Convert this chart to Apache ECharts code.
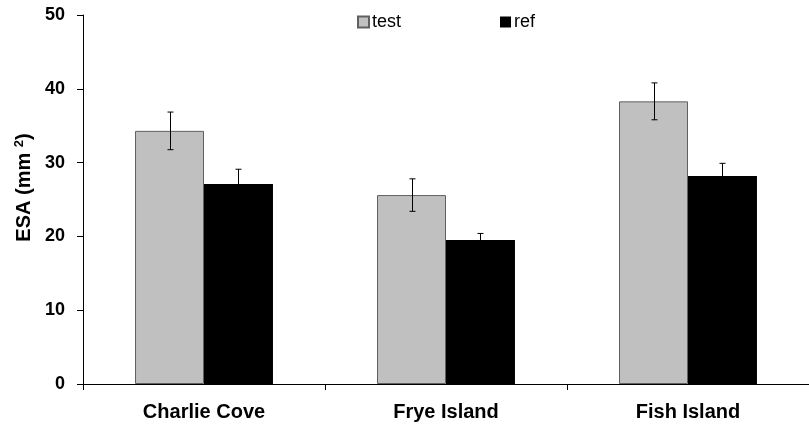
<!DOCTYPE html>
<html>
<head>
<meta charset="utf-8">
<title>ESA chart</title>
<script src="https://cdn.jsdelivr.net/npm/echarts@6/dist/echarts.min.js"></script>
<style>
  html, body { margin: 0; padding: 0; background: #fff; }
  #chart { width: 809px; height: 429px; }
</style>
</head>
<body>
<div id="chart"></div>
<script>
// data
var sites = ['Charlie Cove', 'Frye Island', 'Fish Island'];
var testVals = [34.3, 25.6, 38.3];
var testErr = [2.55, 2.2, 2.5];
var refVals = [27.1, 19.5, 28.2];
var refErr = [2.0, 0.9, 1.7];
var yTicks = [0, 10, 20, 30, 40, 50];

var gapPct = 0.43;
var myChart = echarts.init(document.getElementById('chart'));

function errData(vals, errs) {
    return vals.map(function (v, i) { return [i, v - errs[i], v + errs[i]]; });
}

function errSeries(name, vals, errs, side) {
    return {
        type: 'custom',
        name: name + '_err',
        z: 5,
        data: errData(vals, errs),
        renderItem: function (params, api) {
            var band = api.size([1, 0])[0];
            var off = side * band * (1 - gapPct) / 4;
            var lo = api.coord([api.value(0), api.value(1)]);
            var hi = api.coord([api.value(0), api.value(2)]);
            var x = Math.round(lo[0] + off) + 0.5;
            var st = { stroke: '#000', lineWidth: 1 };
            return {
                type: 'group',
                children: [
                    { type: 'line', shape: { x1: x, y1: hi[1], x2: x, y2: lo[1] }, style: st },
                    { type: 'line', shape: { x1: x - 3, y1: hi[1], x2: x + 3, y2: hi[1] }, style: st },
                    { type: 'line', shape: { x1: x - 3, y1: lo[1], x2: x + 3, y2: lo[1] }, style: st }
                ]
            };
        }
    };
}

var option = {
    animation: false,
    textStyle: { fontFamily: 'Arial, "Liberation Sans", sans-serif' },
    grid: { left: 83, right: -6, top: 15, bottom: 45 },
    legend: {
        data: ['test', 'ref'],
        left: 352,
        top: 8,
        itemWidth: 11,
        itemHeight: 11,
        itemGap: 99,
        icon: 'rect',
        textStyle: { fontSize: 18, color: '#000', padding: [0, 0, 0, -2] }
    },
    xAxis: {
        type: 'category',
        data: sites,
        axisLine: { lineStyle: { color: '#000', width: 1 } },
        axisTick: { show: true, length: 6, lineStyle: { color: '#000' } },
        axisLabel: { margin: 18, fontSize: 20, fontWeight: 'bold', color: '#000' }
    },
    yAxis: {
        type: 'value',
        min: yTicks[0],
        max: yTicks[yTicks.length - 1],
        interval: 10,
        name: '{a|ESA (mm }{s|2}{a|)}',
        nameLocation: 'middle',
        nameGap: 46,
        nameTextStyle: {
            padding: [0, 0, 0, 24],
            rich: {
                a: { fontSize: 20, fontWeight: 'bold', color: '#000', fontFamily: 'Arial' },
                s: { fontSize: 13, fontWeight: 'bold', color: '#000', fontFamily: 'Arial', verticalAlign: 'top', padding: [0, 0, 9, 0] }
            }
        },
        splitLine: { show: false },
        axisLine: { show: true, lineStyle: { color: '#000', width: 1 } },
        axisTick: { show: true, length: 6, lineStyle: { color: '#000' } },
        axisLabel: { margin: 18, fontSize: 18, fontWeight: 'bold', color: '#000' }
    },
    series: [
        {
            name: 'test',
            type: 'bar',
            data: testVals,
            barGap: 0,
            barCategoryGap: (gapPct * 100) + '%',
            itemStyle: { color: '#c0c0c0', borderColor: '#606060', borderWidth: 1 }
        },
        {
            name: 'ref',
            type: 'bar',
            data: refVals,
            itemStyle: { color: '#000' }
        },
        errSeries('test', testVals, testErr, -1),
        errSeries('ref', refVals, refErr, 1)
    ]
};
myChart.setOption(option);
</script>
</body>
</html>
